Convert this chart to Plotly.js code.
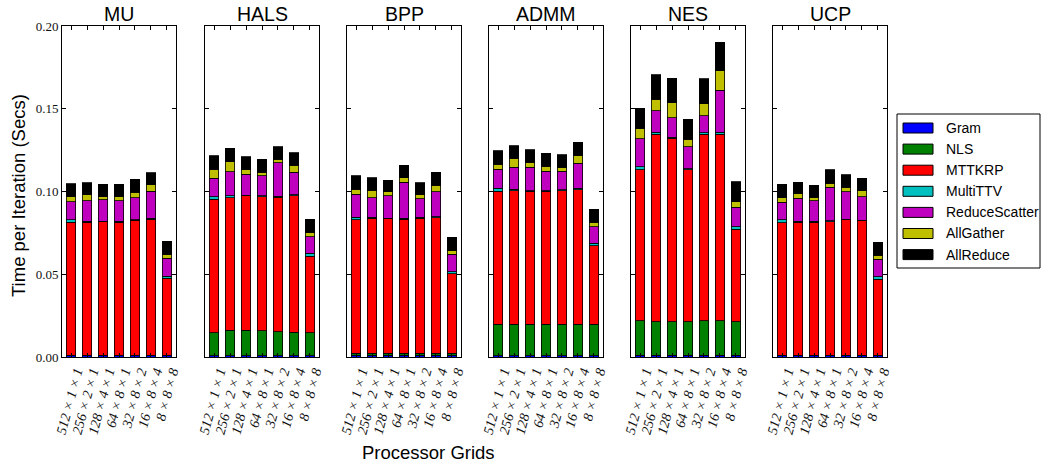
<!DOCTYPE html>
<html>
<head>
<meta charset="utf-8">
<script src="https://cdn.plot.ly/plotly-3.0.1.min.js"></script>
<style>html,body{margin:0;padding:0;background:#fff;}#chart{width:1044px;height:466px;}</style>
</head>
<body>
<div id="chart"></div>
<script>
// ---------------- DATA ----------------
const methods = ['MU', 'HALS', 'BPP', 'ADMM', 'NES', 'UCP'];
const grids = ['512 × 1 × 1', '256 × 2 × 1', '128 × 4 × 1', '64 × 8 × 1', '32 × 8 × 2', '16 × 8 × 4', '8 × 8 × 8'];
const seriesNames = ['Gram', 'NLS', 'MTTKRP', 'MultiTTV', 'ReduceScatter', 'AllGather', 'AllReduce'];

// each array: one row per method (MU, HALS, BPP, ADMM, NES, UCP), one value per grid
const gram = [
  [0.0008, 0.0008, 0.0008, 0.0008, 0.0008, 0.0008, 0.0008],
  [0.0008, 0.0008, 0.0008, 0.0008, 0.0008, 0.0008, 0.0008],
  [0.0010, 0.0010, 0.0010, 0.0010, 0.0010, 0.0010, 0.0010],
  [0.0008, 0.0008, 0.0008, 0.0008, 0.0008, 0.0008, 0.0008],
  [0.0012, 0.0012, 0.0012, 0.0012, 0.0012, 0.0012, 0.0012],
  [0.0008, 0.0008, 0.0008, 0.0008, 0.0008, 0.0008, 0.0008]
];
const nls = [
  [0.0004, 0.0004, 0.0004, 0.0004, 0.0004, 0.0004, 0.0004],
  [0.0139, 0.0155, 0.0155, 0.0151, 0.0145, 0.0141, 0.0139],
  [0.0012, 0.0012, 0.0012, 0.0012, 0.0012, 0.0012, 0.0012],
  [0.0191, 0.0191, 0.0191, 0.0191, 0.0191, 0.0191, 0.0191],
  [0.0208, 0.0201, 0.0201, 0.0201, 0.0208, 0.0208, 0.0201],
  [0.0004, 0.0004, 0.0004, 0.0004, 0.0004, 0.0004, 0.0004]
];
const mttkrp = [
  [0.0802, 0.0802, 0.0804, 0.0802, 0.0813, 0.0820, 0.0464],
  [0.0806, 0.0800, 0.0810, 0.0810, 0.0812, 0.0824, 0.0463],
  [0.0806, 0.0816, 0.0812, 0.0810, 0.0816, 0.0820, 0.0480],
  [0.0804, 0.0806, 0.0802, 0.0802, 0.0806, 0.0812, 0.0472],
  [0.0910, 0.1134, 0.1108, 0.0917, 0.1127, 0.1127, 0.0560],
  [0.0800, 0.0802, 0.0802, 0.0806, 0.0816, 0.0810, 0.0459]
];
const multiTTV = [
  [0.0014, 0.0005, 0.0005, 0.0005, 0.0005, 0.0005, 0.0013],
  [0.0016, 0.0010, 0.0005, 0.0005, 0.0005, 0.0008, 0.0016],
  [0.0016, 0.0005, 0.0005, 0.0005, 0.0005, 0.0005, 0.0013],
  [0.0016, 0.0008, 0.0005, 0.0005, 0.0005, 0.0008, 0.0016],
  [0.0020, 0.0010, 0.0008, 0.0008, 0.0008, 0.0010, 0.0014],
  [0.0016, 0.0005, 0.0005, 0.0005, 0.0005, 0.0005, 0.0014]
];
const reduceScatter = [
  [0.0109, 0.0125, 0.0128, 0.0124, 0.0131, 0.0166, 0.0107],
  [0.0111, 0.0145, 0.0126, 0.0120, 0.0204, 0.0135, 0.0101],
  [0.0139, 0.0120, 0.0134, 0.0218, 0.0112, 0.0152, 0.0107],
  [0.0115, 0.0133, 0.0140, 0.0116, 0.0112, 0.0153, 0.0100],
  [0.0169, 0.0131, 0.0117, 0.0133, 0.0103, 0.0256, 0.0119],
  [0.0106, 0.0140, 0.0124, 0.0202, 0.0166, 0.0142, 0.0105]
];
const allGather = [
  [0.0032, 0.0035, 0.0020, 0.0026, 0.0036, 0.0038, 0.0024],
  [0.0054, 0.0062, 0.0026, 0.0022, 0.0022, 0.0044, 0.0024],
  [0.0030, 0.0046, 0.0026, 0.0029, 0.0024, 0.0040, 0.0020],
  [0.0030, 0.0054, 0.0030, 0.0030, 0.0024, 0.0045, 0.0027],
  [0.0061, 0.0069, 0.0091, 0.0044, 0.0071, 0.0117, 0.0032],
  [0.0029, 0.0026, 0.0022, 0.0024, 0.0026, 0.0036, 0.0026]
];
const allReduce = [
  [0.0079, 0.0074, 0.0074, 0.0074, 0.0077, 0.0073, 0.0079],
  [0.0081, 0.0081, 0.0080, 0.0080, 0.0075, 0.0074, 0.0081],
  [0.0081, 0.0075, 0.0070, 0.0076, 0.0074, 0.0077, 0.0081],
  [0.0083, 0.0077, 0.0075, 0.0078, 0.0077, 0.0080, 0.0080],
  [0.0123, 0.0147, 0.0147, 0.0123, 0.0151, 0.0173, 0.0121],
  [0.0080, 0.0070, 0.0074, 0.0081, 0.0075, 0.0075, 0.0077]
];
const seriesData = [gram, nls, mttkrp, multiTTV, reduceScatter, allGather, allReduce];

// ---------------- STYLE ----------------
const colors = ['#0000ff', '#008000', '#ff0000', '#00bfbf', '#bf00bf', '#bfbf00', '#000000'];
const W = 1044, H = 466;
const panelLeft = [62, 205, 347, 489, 631, 773];
const panelWidth = 114;
const plotTop = 26, plotBottom = 357;
const px = v => v / W;
const py = v => 1 - v / H;
const sans = 'Liberation Sans, Arial, sans-serif';
const serif = 'Liberation Serif, DejaVu Serif, serif';

const traces = [];
methods.forEach((m, p) => {
  seriesNames.forEach((s, k) => {
    traces.push({
      type: 'bar',
      name: s,
      x: grids,
      y: seriesData[k][p],
      width: 0.6,
      xaxis: 'x' + (p === 0 ? '' : p + 1),
      yaxis: 'y' + (p === 0 ? '' : p + 1),
      marker: { color: colors[k], line: { color: '#000', width: 0.8 } },
      showlegend: false,
      hoverinfo: 'skip'
    });
  });
});

const layout = {
  width: W, height: H,
  margin: { l: 0, r: 0, t: 0, b: 0 },
  paper_bgcolor: '#fff', plot_bgcolor: '#fff',
  barmode: 'stack',
  bargap: 0,
  showlegend: false,
  annotations: [],
  shapes: []
};

methods.forEach((m, p) => {
  const sfx = p === 0 ? '' : (p + 1);
  layout['xaxis' + sfx] = {
    domain: [px(panelLeft[p]), px(panelLeft[p] + panelWidth)],
    anchor: 'y' + sfx,
    type: 'category',
    range: [-0.57, 6.57],
    tickmode: 'array', tickvals: grids, ticktext: grids,
    showgrid: false, zeroline: false,
    showline: true, linecolor: '#000', linewidth: 1, mirror: 'ticks',
    ticks: 'inside', ticklen: 4, tickcolor: '#000',
    tickangle: -75,
    ticklabelshift: 5,
    tickfont: { family: serif, size: 14, color: '#111', style: 'italic' }
  };
  layout['yaxis' + sfx] = {
    domain: [py(plotBottom), py(plotTop)],
    anchor: 'x' + sfx,
    range: [0, 0.2],
    tickvals: [0, 0.05, 0.1, 0.15, 0.2],
    tickformat: '.2f',
    showticklabels: p === 0,
    showgrid: false, zeroline: false,
    showline: true, linecolor: '#000', linewidth: 1, mirror: 'ticks',
    ticks: 'inside', ticklen: 4, tickcolor: '#000',
    tickfont: { family: serif, size: 13, color: '#111' }
  };
  if (p > 0) layout['yaxis' + sfx].matches = 'y';
  layout.annotations.push({
    xref: 'paper', yref: 'paper',
    x: px(panelLeft[p] + panelWidth / 2), y: py(14),
    text: m, showarrow: false,
    font: { family: sans, size: 19.5, color: '#000' },
    xanchor: 'center', yanchor: 'middle'
  });
});

// axis titles
layout.annotations.push({
  xref: 'paper', yref: 'paper', x: px(18), y: py(196),
  text: 'Time per Iteration (Secs)', textangle: -90, showarrow: false,
  font: { family: sans, size: 18.5, color: '#000' }, xanchor: 'center', yanchor: 'middle'
});
layout.annotations.push({
  xref: 'paper', yref: 'paper', x: px(428), y: py(452),
  text: 'Processor Grids', showarrow: false,
  font: { family: sans, size: 18.5, color: '#000' }, xanchor: 'center', yanchor: 'middle'
});

// legend (drawn manually to match wide swatches)
layout.shapes.push({
  type: 'rect', xref: 'paper', yref: 'paper',
  x0: px(897), x1: px(1040), y0: py(268), y1: py(114),
  line: { color: '#000', width: 1 }, fillcolor: '#fff'
});
seriesNames.forEach((s, k) => {
  const cy = 128 + k * 21.1;
  layout.shapes.push({
    type: 'rect', xref: 'paper', yref: 'paper',
    x0: px(903), x1: px(933), y0: py(cy + 5), y1: py(cy - 5),
    line: { color: '#000', width: 1 }, fillcolor: colors[k]
  });
  layout.annotations.push({
    xref: 'paper', yref: 'paper', x: px(944), y: py(cy),
    text: s, showarrow: false, xanchor: 'left', yanchor: 'middle',
    font: { family: sans, size: 14, color: '#000' }
  });
});

Plotly.newPlot('chart', traces, layout, { staticPlot: true, displayModeBar: false });
</script>
</body>
</html>
